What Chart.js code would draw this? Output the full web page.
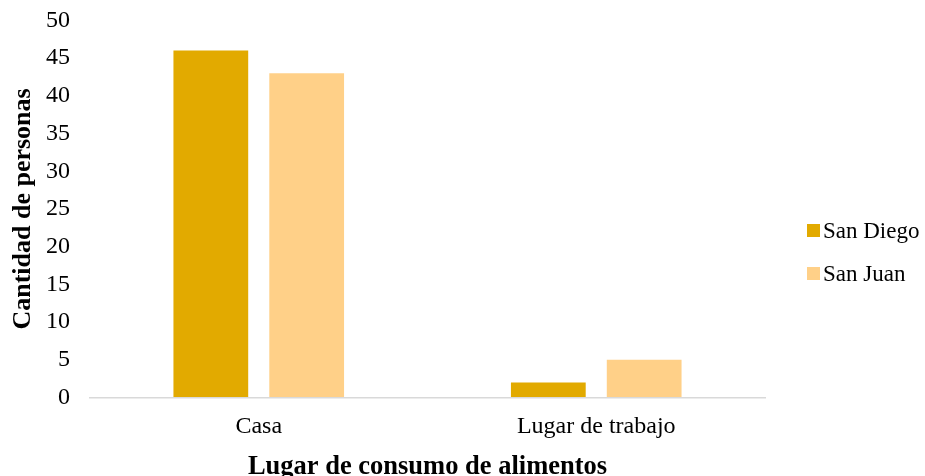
<!DOCTYPE html>
<html>
<head>
<meta charset="utf-8">
<script src="https://cdn.jsdelivr.net/npm/chart.js@4"></script>
<style>
    html, body { margin: 0; padding: 0; background: #ffffff; }
    #wrap { position: relative; width: 925px; height: 476px; }
    #legend { position: absolute; left: 807px; top: 209px; font-family: "Liberation Serif", "Times New Roman", serif; font-size: 23px; color: #000; }
    .item { display: flex; align-items: center; height: 43px; }
    .box { width: 13px; height: 13px; margin-right: 3px; }
</style>
</head>
<body>
<div id="wrap">
    <canvas id="chart" width="925" height="476"></canvas>
    <div id="legend"></div>
</div>
<script>
// Data
const categories = ['Casa', 'Lugar de trabajo'];
const seriesNames = ['San Diego', 'San Juan'];
const sanDiego = [46, 2];
const sanJuan = [43, 5];
const seriesColors = ['#e2aa00', '#ffd088'];
const yTicks = [0, 5, 10, 15, 20, 25, 30, 35, 40, 45, 50];

const serif = '"Liberation Serif", "Times New Roman", serif';
Chart.defaults.font.family = serif;
Chart.defaults.color = '#000';

const values = [sanDiego, sanJuan];

new Chart(document.getElementById('chart'), {
    type: 'bar',
    data: {
        labels: categories,
        datasets: seriesNames.map(function(name, i) {
            return {
                label: name,
                data: values[i],
                backgroundColor: seriesColors[i],
                borderWidth: 0,
                categoryPercentage: 0.568,
                barPercentage: 0.78
            };
        })
    },
    options: {
        responsive: false,
        animation: false,
        layout: { padding: { top: 0, right: 160, bottom: 0, left: 0 } },
        plugins: {
            legend: { display: false },
            tooltip: { enabled: false }
        },
        scales: {
            x: {
                grid: { display: false, drawTicks: false },
                border: { display: true, color: '#d9d9d9', width: 1.5 },
                ticks: { padding: 14.6, font: { size: 24 } },
                title: {
                    display: true,
                    text: 'Lugar de consumo de alimentos',
                    font: { size: 26.5, weight: 'bold', lineHeight: 1 },
                    padding: { top: -2, bottom: -4 }
                }
            },
            y: {
                min: 0,
                max: 50,
                // invisible tick marks only used to push the labels away from the plot
                grid: { display: true, drawOnChartArea: false, drawTicks: true, tickLength: 14, color: 'rgba(0,0,0,0)' },
                border: { display: false },
                afterBuildTicks: function(scale) {
                    scale.ticks = yTicks.map(function(v) { return { value: v }; });
                },
                ticks: { padding: 6, font: { size: 24 } },
                title: {
                    display: true,
                    text: 'Cantidad de personas',
                    font: { size: 26, weight: 'bold', lineHeight: 1 },
                    padding: { top: 10, bottom: 4 }
                }
            }
        }
    }
});

// Legend built from the series arrays
const legend = document.getElementById('legend');
seriesNames.forEach(function(name, i) {
    const item = document.createElement('div');
    item.className = 'item';
    const box = document.createElement('span');
    box.className = 'box';
    box.style.background = seriesColors[i];
    const text = document.createElement('span');
    text.textContent = name;
    item.appendChild(box);
    item.appendChild(text);
    legend.appendChild(item);
});
</script>
</body>
</html>
